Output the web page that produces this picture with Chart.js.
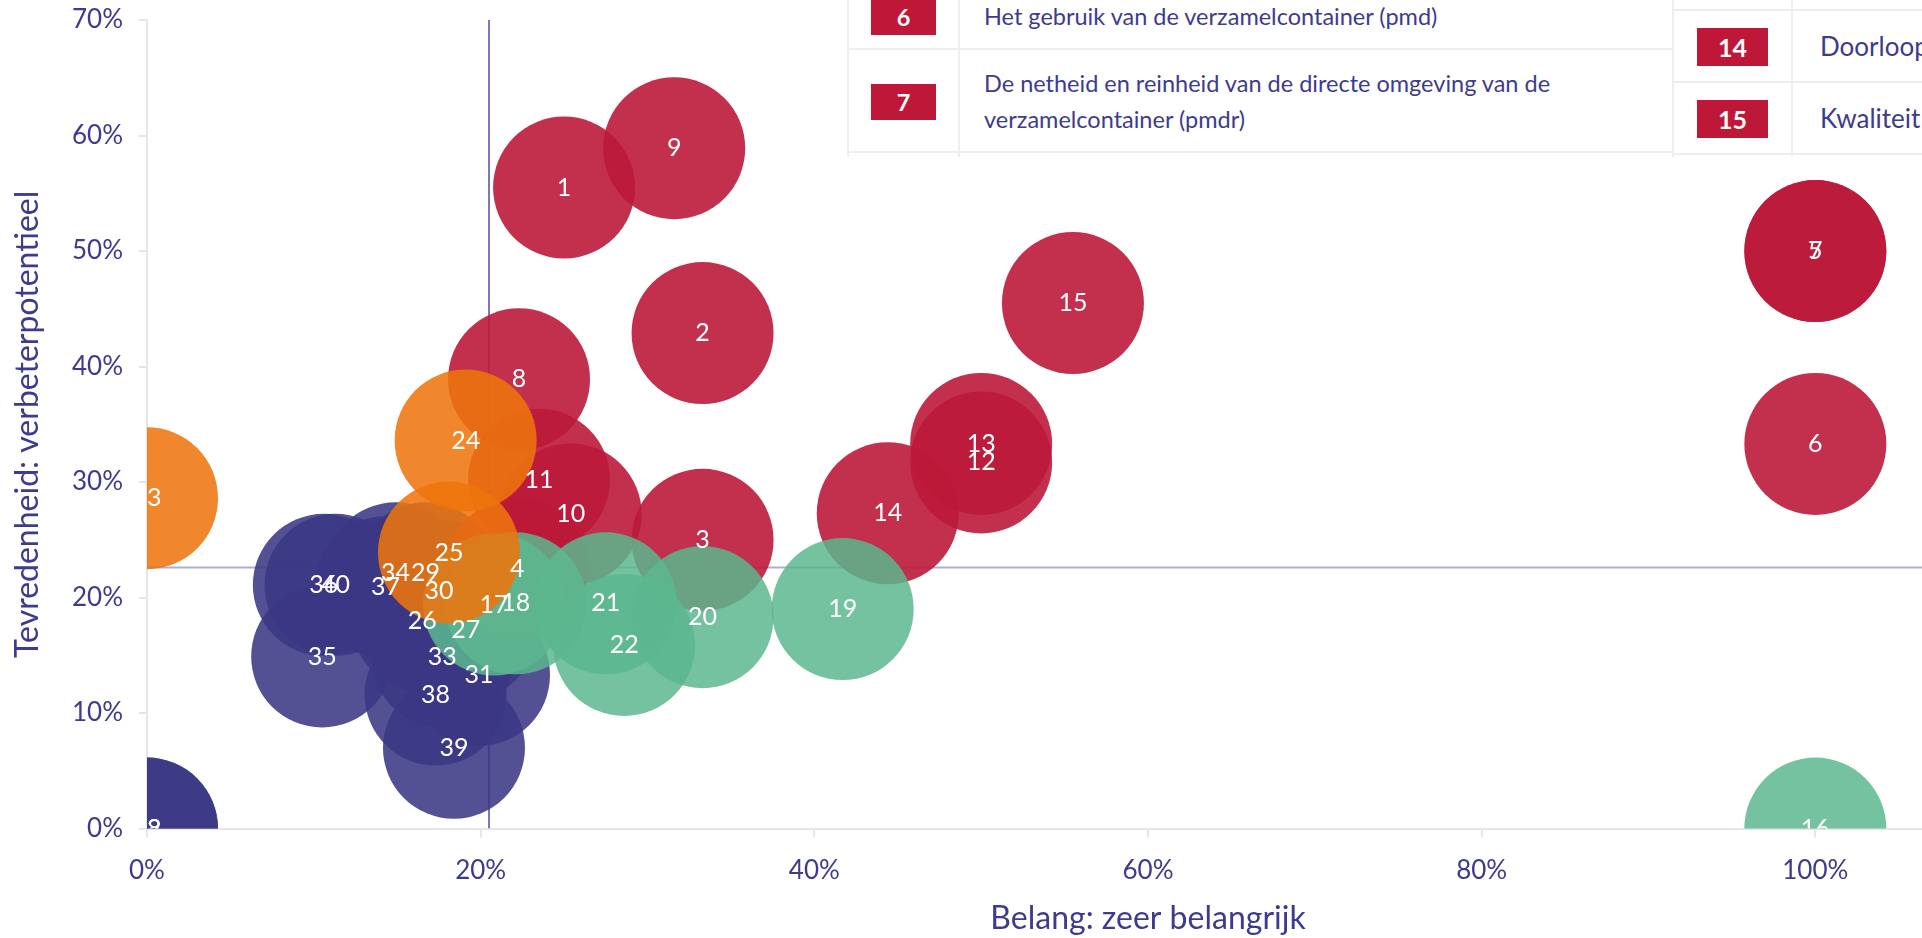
<!DOCTYPE html>
<html lang="nl">
<head>
<meta charset="utf-8">
<title>Belang en tevredenheid</title>
<script src="https://cdn.jsdelivr.net/npm/chart.js@4.4.1/dist/chart.umd.min.js"></script>
<style>
  body { margin: 0; overflow: hidden; background: #fff; font-family: Lato, sans-serif; }
  #wrap { position: relative; width: 2200px; height: 938px; }
  #legenda { position: absolute; left: 0; top: 0; width: 2200px; height: 157px; overflow: hidden; }
  #legenda table { position: absolute; border-collapse: collapse; table-layout: fixed; background: #fff; color: #3d3b8e; font-size: 23.5px; }
  #legenda td { border: 2px solid #eeeeee; padding: 0 0 0 24px; vertical-align: middle; line-height: 36px; }
  #legenda td.nr { padding: 0; text-align: center; }
  .badge { display: inline-block; background: #be1737; color: #fff; font-weight: bold; vertical-align: middle; }
  #links .badge { width: 65px; height: 36px; line-height: 36px; }
  #rechts { font-size: 26px !important; }
  #rechts .badge { width: 71px; height: 38px; line-height: 38px; font-size: 25px; }
  #rechts td { padding-left: 27px; }
</style>
</head>
<body>
<div id="wrap">
  <canvas id="chart" width="2200" height="938"></canvas>
  <div id="legenda">
    <table id="links" style="left:847px; top:-19px; width:827px">
      <col style="width:111px"><col>
      <tr style="height:67px"><td class="nr"><span class="badge">6</span></td><td>Het gebruik van de verzamelcontainer (pmd)</td></tr>
      <tr style="height:103px"><td class="nr"><span class="badge">7</span></td><td>De netheid en reinheid van de directe omgeving van de<br>verzamelcontainer (pmdr)</td></tr>
      <tr style="height:72px"><td class="nr"></td><td></td></tr>
    </table>
    <table id="rechts" style="left:1672px; top:-63px; width:700px">
      <col style="width:119px"><col>
      <tr style="height:72px"><td class="nr"></td><td></td></tr>
      <tr style="height:72px"><td class="nr"><span class="badge">14</span></td><td>Doorlooptijd</td></tr>
      <tr style="height:72px"><td class="nr"><span class="badge">15</span></td><td>Kwaliteit bij</td></tr>
      <tr style="height:72px"><td class="nr"></td><td></td></tr>
    </table>
  </div>
</div>
<script>
// aspecten per groep: nummer, belang (% zeer belangrijk), tevredenheid (% verbeterpotentieel)
const rodeNummers = [1, 2, 3, 4, 5, 6, 7, 8, 9, 10, 11, 12, 13, 14, 15]
const rodeBelang = [25.0, 33.3, 33.3, 22.2, 100, 100, 100, 22.3, 31.6, 25.4, 23.5, 50, 50, 44.4, 55.5]
const rodeTevredenheid = [55.5, 42.9, 25.0, 22.5, 50, 33.3, 50, 38.9, 58.9, 27.2, 30.2, 31.7, 33.3, 27.3, 45.5]

const groeneNummers = [16, 17, 18, 19, 20, 21, 22]
const groeneBelang = [100, 20.8, 22.1, 41.7, 33.3, 27.5, 28.6]
const groeneTevredenheid = [0, 19.4, 19.5, 19.0, 18.3, 19.5, 15.9]

const oranjeNummers = [23, 24, 25]
const oranjeBelang = [0, 19.1, 18.1]
const oranjeTevredenheid = [28.6, 33.6, 23.9]

const blauweNummers = [26, 27, 28, 29, 30, 31, 32, 33, 34, 35, 36, 37, 38, 39, 40]
const blauweBelang = [16.5, 19.1, 0, 16.7, 17.5, 19.9, 0, 17.7, 14.9, 10.5, 10.6, 14.3, 17.3, 18.4, 11.3]
const blauweTevredenheid = [18.0, 17.2, 0, 22.1, 20.6, 13.3, 0, 14.9, 22.1, 14.9, 21.1, 20.9, 11.6, 7.0, 21.1]

const xTicks = [0, 20, 40, 60, 80, 100, 120]
const yTicks = [0, 10, 20, 30, 40, 50, 60, 70]

// kruislijnen (gemiddelden)
const gemBelang = 20.5
const gemTevredenheid = 22.6

const tekstKleur = '#3d3b8e'
const lijnKleur = '#e6e6e6'

function bubbels(nummers, belang, tevredenheid, kleur, volgorde) {
    return {
        type: 'bubble',
        nummers: nummers,
        data: belang.map((x, i) => ({ x: x, y: tevredenheid[i] })),
        backgroundColor: kleur,
        borderWidth: 0,
        radius: 71,
        clip: 0,
        order: volgorde
    }
}

function lijn(punten, kleur) {
    return {
        type: 'line',
        data: punten,
        borderColor: kleur,
        borderWidth: 2,
        pointRadius: 0,
        fill: false,
        clip: 0,
        order: 9
    }
}

// nummers in het midden van elke bel
const belLabels = {
    id: 'belLabels',
    afterDatasetsDraw(chart) {
        let ctx = chart.ctx
        let area = chart.chartArea
        ctx.save()
        ctx.beginPath()
        ctx.rect(area.left, area.top, area.right - area.left, area.bottom - area.top)
        ctx.clip()
        ctx.fillStyle = '#ffffff'
        ctx.font = '25px Lato'
        ctx.textAlign = 'center'
        ctx.textBaseline = 'middle'
        chart.data.datasets.forEach((ds, i) => {
            if (!ds.nummers) return
            chart.getDatasetMeta(i).data.forEach((el, j) => {
                ctx.fillText(String(ds.nummers[j]), el.x, el.y)
            })
        })
        ctx.restore()
    }
}

Chart.defaults.font.family = 'Lato'

new Chart(document.getElementById('chart'), {
    type: 'bubble',
    data: {
        datasets: [
            bubbels(oranjeNummers, oranjeBelang, oranjeTevredenheid, 'rgba(238,117,13,0.87)', 1),
            bubbels(groeneNummers, groeneBelang, groeneTevredenheid, 'rgba(92,183,143,0.85)', 2),
            bubbels(rodeNummers, rodeBelang, rodeTevredenheid, 'rgba(189,25,58,0.9)', 3),
            bubbels(blauweNummers, blauweBelang, blauweTevredenheid, 'rgba(59,56,133,0.88)', 4),
            lijn([{ x: gemBelang, y: 0 }, { x: gemBelang, y: 70 }], 'rgba(90,88,160,0.8)'),
            lijn([{ x: 0, y: gemTevredenheid }, { x: 120, y: gemTevredenheid }], 'rgba(120,118,185,0.6)')
        ]
    },
    plugins: [belLabels],
    options: {
        responsive: false,
        animation: false,
        events: [],
        layout: { autoPadding: false, padding: { top: 20, left: 0, right: 51, bottom: 0 } },
        plugins: { legend: { display: false }, tooltip: { enabled: false } },
        scales: {
            x: {
                type: 'linear',
                min: 0,
                max: 120,
                afterBuildTicks: s => { s.ticks = xTicks.map(v => ({ value: v })) },
                afterFit: s => { s.height = 109.4 },
                ticks: { color: tekstKleur, font: { size: 26 }, padding: 17, callback: v => v + '%' },
                grid: { drawOnChartArea: false, drawTicks: true, tickLength: 9, color: lijnKleur, lineWidth: 2 },
                border: { display: true, color: lijnKleur, width: 2 },
                title: { display: true, text: 'Belang: zeer belangrijk', color: tekstKleur, font: { size: 32 }, padding: { top: 0, bottom: 0 } }
            },
            y: {
                type: 'linear',
                min: 0,
                max: 70,
                afterBuildTicks: s => { s.ticks = yTicks.map(v => ({ value: v })) },
                afterFit: s => { s.width = 147; s.paddingTop = 0; s.paddingBottom = 0 },
                ticks: { color: tekstKleur, font: { size: 26 }, padding: 16, callback: v => v + '%' },
                grid: { drawOnChartArea: false, drawTicks: true, tickLength: 8, color: lijnKleur, lineWidth: 2 },
                border: { display: true, color: lijnKleur, width: 2 },
                title: { display: true, text: 'Tevredenheid: verbeterpotentieel', color: tekstKleur, font: { size: 32 }, padding: { top: 8, bottom: 4 } }
            }
        }
    }
})
</script>
</body>
</html>
